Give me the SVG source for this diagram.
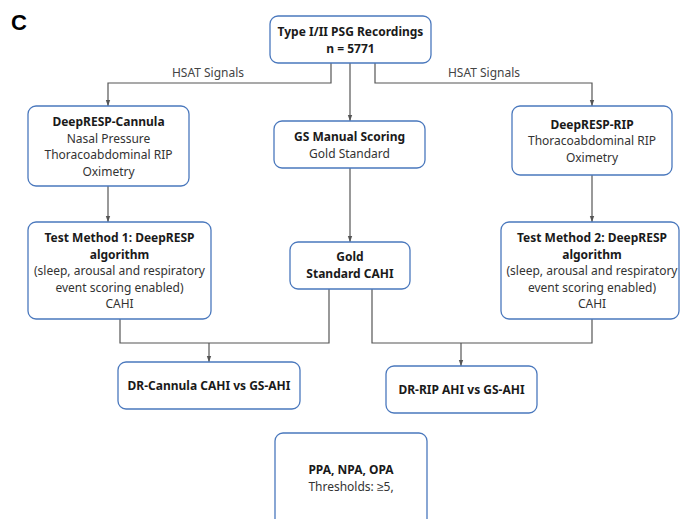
<svg xmlns="http://www.w3.org/2000/svg" width="680" height="519" viewBox="0 0 680 519">
<style>
.box{fill:#fff;stroke:#4a78bd;stroke-width:1.3}
.t{font-family:"Noto Sans",sans-serif;font-size:12px;fill:#333;text-anchor:middle}
.b{font-weight:bold;fill:#1a1a1a}
.c{fill:none;stroke:#555;stroke-width:1.2}
.lbl{font-family:"Noto Sans",sans-serif;font-size:12px;fill:#444;text-anchor:middle}
</style>
<defs>
<marker id="ah" viewBox="0 0 6 6" refX="6" refY="3" markerWidth="6" markerHeight="6" orient="auto" markerUnits="userSpaceOnUse">
<path d="M0,0.8 L6,3 L0,5.2 z" fill="#555"/>
</marker>
</defs>
<rect width="680" height="519" fill="#fff"/>
<text x="11" y="30" font-family="Liberation Sans,Arial,sans-serif" font-size="22" font-weight="bold" fill="#000">C</text>
<g id="connectors">
<path class="c" d="M331,63 V83 H108 V106" marker-end="url(#ah)"/>
<path class="c" d="M375,63 V83 H592 V106" marker-end="url(#ah)"/>
<path class="c" d="M350,63 V121" marker-end="url(#ah)"/>
<path class="c" d="M108,186 V222" marker-end="url(#ah)"/>
<path class="c" d="M592,175 V222" marker-end="url(#ah)"/>
<path class="c" d="M350,168 V242" marker-end="url(#ah)"/>
<path class="c" d="M120,319 V343 H329 V289"/>
<path class="c" d="M209,343 V362" marker-end="url(#ah)"/>
<path class="c" d="M372,289 V343 H592 V319"/>
<path class="c" d="M461,343 V366" marker-end="url(#ah)"/>
<text class="lbl" x="208" y="77">HSAT Signals</text>
<text class="lbl" x="484" y="77">HSAT Signals</text>
</g>
<g id="psg">
<rect class="box" x="270" y="16" width="161" height="47" rx="8"/>
<text class="t b" x="350.5" y="36">Type I/II PSG Recordings</text>
<text class="t b" x="350.5" y="53">n = 5771</text>
</g>
<g id="cannula">
<rect class="box" x="28" y="106" width="161" height="80" rx="8"/>
<text class="t b" x="108.5" y="126">DeepRESP-Cannula</text>
<text class="t" x="108.5" y="143">Nasal Pressure</text>
<text class="t" x="108.5" y="159">Thoracoabdominal RIP</text>
<text class="t" x="108.5" y="176">Oximetry</text>
</g>
<g id="gsmanual">
<rect class="box" x="274" y="121" width="151" height="47" rx="8"/>
<text class="t b" x="349.5" y="141">GS Manual Scoring</text>
<text class="t" x="349.5" y="158">Gold Standard</text>
</g>
<g id="rip">
<rect class="box" x="512" y="106" width="160" height="69" rx="8"/>
<text class="t b" x="592" y="129">DeepRESP-RIP</text>
<text class="t" x="592" y="145">Thoracoabdominal RIP</text>
<text class="t" x="592" y="162">Oximetry</text>
</g>
<g id="test1">
<rect class="box" x="28" y="222" width="183" height="97" rx="8"/>
<text class="t b" x="119.5" y="242">Test Method 1: DeepRESP</text>
<text class="t b" x="119.5" y="259">algorithm</text>
<text class="t" x="119.5" y="275">(sleep, arousal and respiratory</text>
<text class="t" x="119.5" y="292">event scoring enabled)</text>
<text class="t" x="119.5" y="308">CAHI</text>
</g>
<g id="gold">
<rect class="box" x="290" y="242" width="120" height="47" rx="8"/>
<text class="t b" x="350" y="261">Gold</text>
<text class="t b" x="350" y="278">Standard CAHI</text>
</g>
<g id="test2">
<rect class="box" x="501" y="222" width="178" height="97" rx="8"/>
<text class="t b" x="592" y="242">Test Method 2: DeepRESP</text>
<text class="t b" x="592" y="259">algorithm</text>
<text class="t" x="592" y="275">(sleep, arousal and respiratory</text>
<text class="t" x="592" y="292">event scoring enabled)</text>
<text class="t" x="592" y="308">CAHI</text>
</g>
<g id="drcannula">
<rect class="box" x="118" y="362" width="182" height="47" rx="8"/>
<text class="t b" x="209" y="390">DR-Cannula CAHI vs GS-AHI</text>
</g>
<g id="drrip">
<rect class="box" x="386" y="366" width="151" height="47" rx="8"/>
<text class="t b" x="461.5" y="394">DR-RIP AHI vs GS-AHI</text>
</g>
<g id="ppa">
<rect class="box" x="275" y="433" width="152" height="95" rx="8"/>
<text class="t b" x="351" y="474">PPA, NPA, OPA</text>
<text class="t" x="351" y="491">Thresholds: ≥5,</text>
</g>
</svg>
